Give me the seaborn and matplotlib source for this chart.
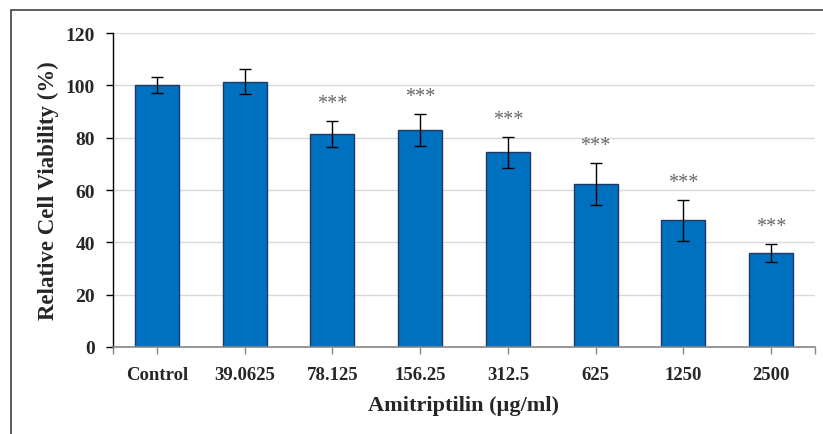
import matplotlib
matplotlib.use("Agg")
import matplotlib.pyplot as plt
import matplotlib.patches as patches
import seaborn as sns
import pandas as pd

doses = ["Control", "39.0625", "78.125", "156.25", "312.5", "625", "1250", "2500"]
viability = [100.0, 101.3, 81.5, 83.0, 74.4, 62.3, 48.4, 36.0]
sd = [3.0, 4.8, 5.0, 6.2, 6.0, 8.2, 7.8, 3.5]
stars = ["", "", "***", "***", "***", "***", "***", "***"]

df = pd.DataFrame({"Dose": doses, "Viability": viability})

sns.set_style("white")
plt.rcParams["font.family"] = ["Liberation Serif", "DejaVu Serif"]
plt.rcParams["font.weight"] = "bold"

fig = plt.figure(figsize=(8.23, 4.35), dpi=100)
ax = fig.add_axes([113 / 823, 87 / 435, 702 / 823, 314 / 435])

sns.barplot(data=df, x="Dose", y="Viability", color="#0070C0", width=0.5,
            edgecolor="#1F3864", linewidth=1.0, saturation=1, errorbar=None, ax=ax, zorder=2)
ax.errorbar(range(len(doses)), viability, yerr=sd, fmt="none", ecolor="black",
            elinewidth=1.0, capsize=4, capthick=1.0, zorder=3)

# significance marks above the error bars
for i, s in enumerate(stars):
    if s:
        ax.text(i, viability[i] + sd[i] + 6.5, s, ha="center", va="center",
                fontsize=14.5, color="#666666", fontweight="normal")

ax.set_xlim(-0.5, 7.5)
ax.set_ylim(0, 120)
ax.set_yticks(range(0, 121, 20))
ax.set_xticks([-0.5, 7.5], minor=True)
ax.yaxis.grid(True, color="#D9D9D9", linewidth=1.0, zorder=0)
ax.set_axisbelow(True)

for side in ["top", "right"]:
    ax.spines[side].set_visible(False)
ax.spines["left"].set_color("black")
ax.spines["bottom"].set_color("#868686")
ax.spines["left"].set_linewidth(1.0)
ax.spines["bottom"].set_linewidth(1.2)

ax.tick_params(axis="y", which="major", direction="out", length=5, width=1, color="black",
               left=True, labelsize=14, pad=8)
ax.tick_params(axis="x", which="both", direction="out", length=5, width=1, color="#868686",
               bottom=True, labelsize=13.5, pad=9)
for lab in ax.get_xticklabels() + ax.get_yticklabels():
    lab.set_fontweight("bold")

ax.set_xlabel("Amitriptilin (µg/ml)", fontsize=16, fontweight="bold", labelpad=8)
ax.set_ylabel("Relative Cell Viability (%)", fontsize=16.5, fontweight="bold", labelpad=5)

frame = patches.Rectangle((11 / 823, -0.1), 1.2, 1.1 - 11 / 435, transform=fig.transFigure,
                          fill=False, edgecolor="#404040", linewidth=1.2, zorder=10)
fig.patches.append(frame)

fig.savefig("out.png", dpi=100)
